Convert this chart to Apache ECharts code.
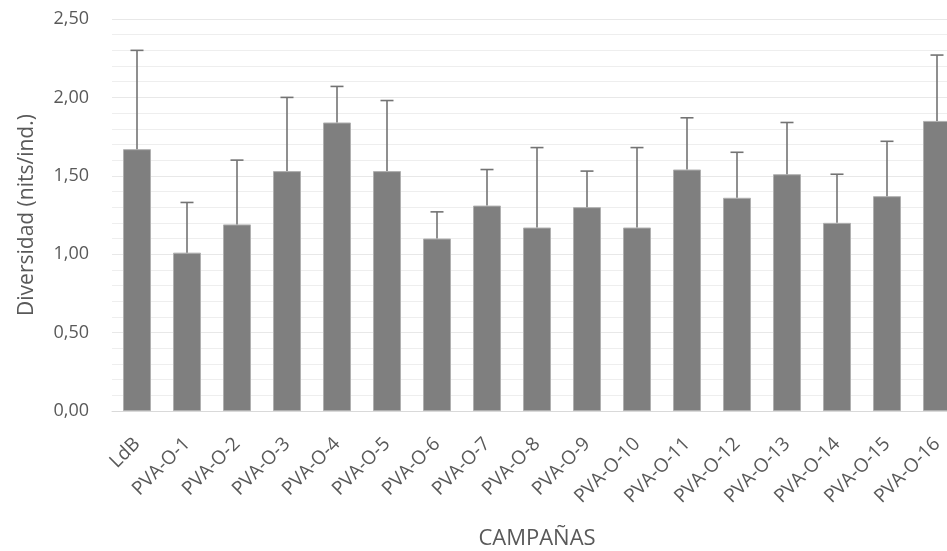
<!DOCTYPE html>
<html>
<head>
<meta charset="utf-8">
<script src="https://cdn.jsdelivr.net/npm/echarts@6/dist/echarts.min.js"></script>
<style>
  html, body { margin: 0; padding: 0; background: #ffffff; }
  #chart { width: 947px; height: 551px; }
</style>
</head>
<body>
<div id="chart"></div>
<script>
// Campaigns along the x axis
const categories = ['LdB', 'PVA-O-1', 'PVA-O-2', 'PVA-O-3', 'PVA-O-4', 'PVA-O-5', 'PVA-O-6', 'PVA-O-7', 'PVA-O-8',
  'PVA-O-9', 'PVA-O-10', 'PVA-O-11', 'PVA-O-12', 'PVA-O-13', 'PVA-O-14', 'PVA-O-15', 'PVA-O-16'];
// Mean diversity (nits/ind.)
const means = [1.67, 1.01, 1.19, 1.53, 1.84, 1.53, 1.10, 1.31, 1.17, 1.30, 1.17, 1.54, 1.36, 1.51, 1.20, 1.37, 1.85];
// Upper error (standard deviation)
const errors = [0.63, 0.32, 0.41, 0.47, 0.23, 0.45, 0.17, 0.23, 0.51, 0.23, 0.51, 0.33, 0.29, 0.33, 0.31, 0.35, 0.42];
// Y tick values
const yTicks = [0, 0.5, 1, 1.5, 2, 2.5];

const FONT = '"Open Sans", sans-serif';
const TXT = '#595959';

const chart = echarts.init(document.getElementById('chart'), null, { renderer: 'canvas' });

const errData = categories.map((c, i) => [i, means[i], means[i] + errors[i]]);

chart.setOption({
  animation: false,
  backgroundColor: '#ffffff',
  grid: { left: 112, top: 19, width: 850, height: 392, containLabel: false, outerBoundsMode: 'none' },
  xAxis: {
    type: 'category',
    data: categories,
    name: 'CAMPAÑAS',
    nameLocation: 'middle',
    nameGap: 117,
    nameTextStyle: { fontFamily: FONT, fontSize: 22, color: TXT },
    axisLine: { lineStyle: { color: '#d9d9d9', width: 1 } },
    axisTick: { show: false },
    axisLabel: { rotate: 45, fontFamily: FONT, fontSize: 19, color: TXT, margin: 30, interval: 0 },
    splitLine: { show: false }
  },
  yAxis: {
    type: 'value',
    min: yTicks[0],
    max: yTicks[yTicks.length - 1],
    interval: 0.5,
    name: 'Diversidad (nits/ind.)',
    nameLocation: 'middle',
    nameGap: 74,
    nameTextStyle: { fontFamily: FONT, fontSize: 21, color: TXT },
    axisLine: { show: false },
    axisTick: { show: false },
    axisLabel: {
      fontFamily: FONT, fontSize: 18, color: TXT, margin: 23,
      formatter: v => v.toFixed(2).replace('.', ',')
    },
    splitLine: { lineStyle: { color: '#e8e8e8', width: 1 } },
    minorTick: { show: false, splitNumber: 5 },
    minorSplitLine: { show: true, lineStyle: { color: '#eeeeee', width: 1 } }
  },
  series: [
    {
      type: 'bar',
      data: means,
      barWidth: '56%',
      itemStyle: { color: '#7f7f7f', borderColor: '#b0b0b0', borderWidth: 1 },
      z: 2
    },
    {
      type: 'custom',
      data: errData,
      z: 3,
      renderItem: (params, api) => {
        const x = api.coord([api.value(0), api.value(1)])[0];
        const yLow = api.coord([api.value(0), api.value(1)])[1];
        const yHigh = api.coord([api.value(0), api.value(2)])[1];
        const half = 6.5;
        const style = { stroke: '#737373', lineWidth: 1.6 };
        return {
          type: 'group',
          children: [
            { type: 'line', shape: { x1: x, y1: yLow, x2: x, y2: yHigh }, style },
            { type: 'line', shape: { x1: x - half, y1: yHigh, x2: x + half, y2: yHigh }, style }
          ]
        };
      }
    }
  ]
});
</script>
</body>
</html>
